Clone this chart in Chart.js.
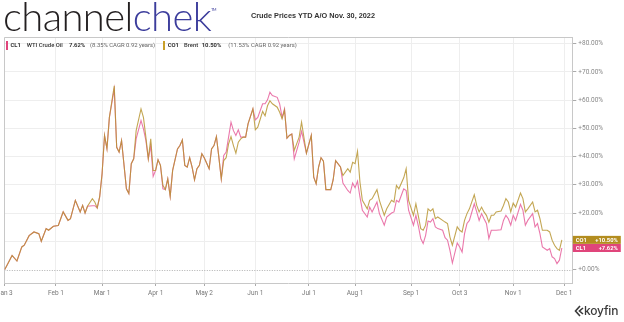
<!DOCTYPE html>
<html><head><meta charset="utf-8">
<script src="https://cdn.jsdelivr.net/npm/chart.js@4.4.0/dist/chart.umd.min.js"></script>
<style>
html,body{margin:0;padding:0;background:#fff;width:624px;height:322px;overflow:hidden;}
#wrap{position:relative;width:624px;height:322px;}
canvas{position:absolute;left:0;top:0;}
.ov{position:absolute;white-space:nowrap;line-height:1;}
#logo{left:3px;top:-4px;font-family:Lato,'Open Sans',sans-serif;font-weight:300;font-size:40px;color:#231f20;letter-spacing:-0.6px;}
#logo .c2{color:#3c3d9c;}
#logo .tm{font-size:4px;vertical-align:top;position:relative;top:12px;color:#3c3d9c;font-weight:400;}
#title{left:251px;top:12px;font-family:'Liberation Sans',Arial,sans-serif;font-weight:bold;font-size:7.3px;color:#333;}
.lg{top:42.7px;font-family:Roboto,sans-serif;font-size:5.9px;color:#333;}
.b{font-weight:bold;}
.m{font-weight:500;}
.g{color:#666;}
.bar{position:absolute;top:41px;width:2px;height:9px;}
#koy{left:584px;top:305px;font-family:Inter,Roboto,sans-serif;font-size:12px;font-weight:500;color:#3a3a3a;letter-spacing:-0.2px;}
#koyicon{position:absolute;left:574px;top:305px;}
</style></head>
<body><div id="wrap">
<canvas id="c" width="624" height="322"></canvas>
<div class="ov" id="logo">channel<span class="c2">chek</span><span class="tm">TM</span></div>
<div class="ov" id="title">Crude Prices YTD A/O Nov. 30, 2022</div>
<div class="bar" style="left:6.3px;background:#e0457b"></div>
<div class="ov lg b" style="left:10.5px">CL1</div>
<div class="ov lg m" style="left:26.7px">WTI Crude Oil</div>
<div class="ov lg b" style="left:69px">7.62%</div>
<div class="ov lg g" style="left:90px">(8.35% CAGR 0.92 years)</div>
<div class="bar" style="left:163px;background:#c9a02a"></div>
<div class="ov lg b" style="left:167.7px">CO1</div>
<div class="ov lg m" style="left:184px">Brent</div>
<div class="ov lg b" style="left:201.7px">10.50%</div>
<div class="ov lg g" style="left:228.3px">(11.53% CAGR 0.92 years)</div>
<svg id="koyicon" width="10" height="12" viewBox="0 0 10 12"><path d="M6 1 L1.5 6 L6 11 M9 3 L5.5 6 L9 9" fill="none" stroke="#3a3a3a" stroke-width="1.6"/></svg>
<div class="ov" id="koy">koyfin</div>
</div>
<script>
// trading-day index from Jan 3, 2022
const days = [0,3,5,7,8,10,12,14,15,17,18,20,22,24,26,27,29,31,32,33,34,36,37,38,39,40,41,42,43,45,46,47,48,50,51,52,53,54,56,57,58,59,60,61,62,63,64,65,66,67,68,69,71,72,73,74,75,76,77,78,79,80,81,82,84,85,86,87,88,89,90,91,92,93,94,95,96,97,98,99,100,102,103,104,106,107,108,109,110,112,113,114,115,116,117,118,119,121,122,124,126,127,128,129,130,131,132,134,135,136,138,139,141,142,143,144,145,146,147,149,150,151,153,154,156,157,159,160,161,162,164,165,166,168,169,170,171,172,173,174,175,176,177,178,180,181,182,183,184,186,187,188,189,190,191,193,194,195,196,197,198,199,200,201,202,204,205,206,207,208,209,210,212,213,214,215,217,218,219,220,221,223,224,225,226,227,228,229];
// WTI Crude Oil (CL1), % change YTD
const wti = [0,5,3,8,8.6,12,13.3,12.7,10,14.5,13.9,15.3,15.6,20.4,17.4,18,24.5,20.4,22.7,20,22.4,22.6,22.6,21.8,25.7,33.9,47.5,42.8,53.9,64,43.3,41.6,45.7,28.6,26.9,37.5,39.2,46.3,52.8,49.8,45.7,39.2,43.9,33,35.1,38.9,36.9,28.6,28.3,32.1,25.9,35.1,42.7,43.9,45.9,36.9,36.3,39.6,36.3,31.8,35.7,36.9,41,39.6,35.7,42.7,43.9,47.1,39.8,32.1,40.4,41.6,46.9,52.2,49.2,47.5,49.5,46.9,46.9,46.9,51.6,56.9,53,53.9,58.7,58.7,60.1,62.8,61.6,61,58.7,53.9,56.9,46.5,47.5,48,39.2,45.1,49,41.2,47.5,32.7,30.4,36.3,39.6,38.4,28.3,28.3,31.8,38.6,36.3,30.6,28,27.1,30.6,29,31.3,25.7,21,18.6,22.1,20.4,23.9,19.8,15.7,18.6,20,20.4,24.5,23.9,28.6,28,21,15.7,19.2,15.5,11,9.2,12.1,17.2,16.8,18,15.1,14.5,13.9,11.3,10.4,6.8,2.3,9.4,8,6.2,12.7,16.3,17.4,23.3,20.4,17.4,19.8,18,16.3,11,13.9,13.9,13.9,14.1,17.4,19.2,18,15.7,19.2,17.4,23.1,21,15.7,17.4,19.8,15.1,16.3,12.7,8,6.8,7.4,4.5,3.9,2.1,3.3,7.62];
// Brent (CO1), % change YTD
const brent = [0,5,3,8,8.6,12,13.3,12.7,10,14.5,13.9,15.3,15.6,20.4,17.4,18,24.5,20.4,22.7,20,22.4,25.1,23.9,21.8,25.7,33.9,47.5,42.8,53.9,65.1,43.3,41.6,45.7,28.6,26.9,37.5,39.2,49.2,56.9,53.9,46.9,39.2,46.3,35.1,35.1,38.9,36.9,29.8,28.3,32.1,25.9,35.1,42.7,43.9,45.9,36.9,36.3,39.6,36.3,31.8,35.7,36.9,41,39.6,35.7,42.7,43.9,47.1,39.8,32.1,38.6,39.6,44.5,47.1,43.9,41.2,45.1,46.3,46.9,46.9,51.6,56.9,49.5,50.4,56,54.5,58,59.8,58.7,57.5,55.7,53.4,56.5,46.5,47.5,48,42.2,46.9,52.2,41.2,47.5,32.7,30.4,36.3,39.6,38.4,28.3,28.3,31.8,38.6,36.3,33.3,35.7,34.5,38,37.5,41.9,31,24.5,21.5,24.5,25.1,28.3,24.5,19.2,21.5,24.5,23.9,29.8,28.6,32.5,35.7,24.5,19.2,23.3,19,14.5,13.9,15.7,21.5,20.7,21.5,18,18.6,17.4,16.8,16.3,11.5,8.6,15.1,13.9,13.3,17.4,19.8,21.5,26.5,22.7,20.4,22.1,20.4,19.2,16.8,19.2,19.2,20.4,20.7,22.7,25.1,23.9,20.4,23.5,22.1,27.1,25.1,20.4,21.5,23.9,20.4,21,18,13.9,13.9,13.3,10.4,8.6,7.4,6.8,10.5];
const tickDays = [0,21,40,62,82,103,125,144,167,187,209,230];
const tickLabels = ['Jan 3','Feb 1','Mar 1','Apr 1','May 2','Jun 1','Jul 1','Aug 1','Sep 1','Oct 3','Nov 1','Dec 1'];
const yTicks = [0,10,20,30,40,50,60,70,80];
const seriesNames = ['CL1','CO1'];

const framePlugin = {
  id:'frame',
  beforeDatasetsDraw(chart){
    const {ctx, chartArea:a, scales:{y}} = chart;
    ctx.save();
    ctx.strokeStyle='#b0b0b0'; ctx.lineWidth=1; ctx.setLineDash([1,1.5]);
    const y0 = Math.round(y.getPixelForValue(0))+0.5;
    ctx.beginPath(); ctx.moveTo(a.left,y0); ctx.lineTo(a.right,y0); ctx.stroke();
    ctx.setLineDash([]); ctx.strokeStyle='#c8c8c8';
    ctx.beginPath(); ctx.moveTo(Math.round(a.left)+0.5,a.bottom); ctx.lineTo(Math.round(a.left)+0.5,Math.round(a.top)+0.5); ctx.lineTo(a.right,Math.round(a.top)+0.5); ctx.stroke();
    ctx.restore();
  }
};
const badgePlugin = {
  id:'badges',
  afterDraw(chart){
    const {ctx, chartArea:a, scales:{y}} = chart;
    const items = [
      {name:seriesNames[1], v:brent[brent.length-1], color:'#b38d1f'},
      {name:seriesNames[0], v:wti[wti.length-1], color:'#e0457b'}
    ];
    ctx.save();
    items.forEach(it=>{
      const yc = y.getPixelForValue(it.v);
      const x0 = a.right+0.5, w = 48, h = 8;
      ctx.fillStyle = it.color; ctx.fillRect(x0, yc-h/2, w, h);
      ctx.fillStyle = '#fff'; ctx.font = 'bold 5.8px Roboto, sans-serif'; ctx.textBaseline = 'middle';
      ctx.textAlign = 'left'; ctx.fillText(it.name, x0+3, yc+0.5);
      ctx.textAlign = 'right'; ctx.fillText('+'+it.v.toFixed(2)+'%', x0+w-3, yc+0.5);
    });
    ctx.restore();
  }
};

new Chart(document.getElementById('c'), {
  type:'line',
  data:{datasets:[
    {label:'Brent', data:days.map((d,i)=>({x:d,y:brent[i]})), borderColor:'rgba(182,146,45,0.82)', borderWidth:1.1, pointRadius:0, tension:0},
    {label:'WTI Crude Oil', data:days.map((d,i)=>({x:d,y:wti[i]})), borderColor:'rgba(232,105,162,0.9)', borderWidth:1.1, pointRadius:0, tension:0}
  ]},
  options:{
    responsive:false, animation:false, devicePixelRatio:1,
    layout:{padding:{left:4.3, top:37, right:0, bottom:25}},
    plugins:{legend:{display:false}, tooltip:{enabled:false}},
    scales:{
      x:{type:'linear', min:-0.2, max:233.3,
        afterBuildTicks:s=>{s.ticks = tickDays.map(v=>({value:v}));},
        afterFit:s=>{s.paddingLeft=0; s.paddingRight=0; s.height=14;},
        ticks:{autoSkip:false, maxRotation:0, minRotation:0, padding:3, color:'#777', font:{family:'Roboto', size:6.5},
          callback:v=>{const i=tickDays.indexOf(v); return i>=0?tickLabels[i]:'';}},
        grid:{color:'#eeeeee', lineWidth:1, tickLength:3, tickColor:'#aaa'},
        border:{color:'#c8c8c8'}
      },
      y:{position:'right', min:-4.78, max:82.37,
        afterBuildTicks:s=>{s.ticks = yTicks.map(v=>({value:v}));},
        afterFit:s=>{s.width=51.7; s.paddingTop=0; s.paddingBottom=0;},
        ticks:{padding:2, color:'#888', font:{family:'Roboto', size:6.5}, callback:v=>'+'+Number(v).toFixed(2)+'%'},
        grid:{color:c=>(c.tick && c.tick.value===0)?'rgba(0,0,0,0)':'#eeeeee', lineWidth:1, tickLength:4, tickColor:'#aaa'},
        border:{color:'#c8c8c8'}
      }
    }
  },
  plugins:[framePlugin, badgePlugin]
});
</script>
</body></html>
